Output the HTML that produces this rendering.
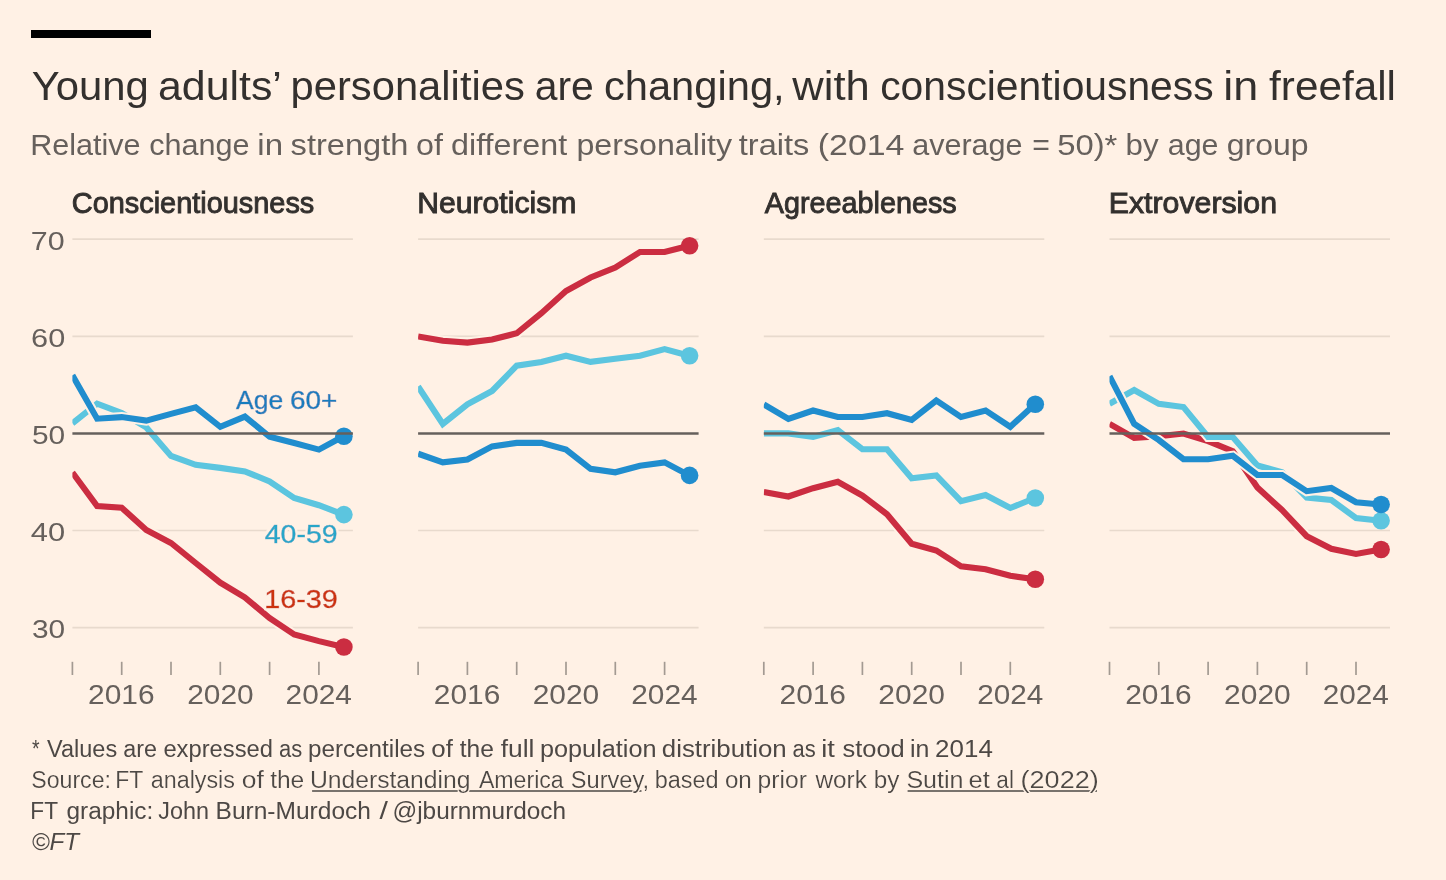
<!DOCTYPE html>
<html lang="en"><head><meta charset="utf-8"><title>Young adults’ personalities are changing</title>
<style>html,body{margin:0;padding:0;background:#fff1e5}body{width:1446px;height:880px;overflow:hidden}svg{display:block}text{font-family:"Liberation Sans",sans-serif}</style></head><body>
<svg width="1446" height="880" viewBox="0 0 1446 880">
<rect width="1446" height="880" fill="#fff1e5"/>
<rect x="31" y="30" width="120" height="8" fill="#000"/>
<filter id="halo1" x="-5%" y="-30%" width="110%" height="160%"><feMorphology in="SourceAlpha" operator="dilate" radius="2.3" result="d"/><feFlood flood-color="#fff1e5"/><feComposite in2="d" operator="in" result="h"/><feMerge><feMergeNode in="h"/><feMergeNode in="SourceGraphic"/></feMerge></filter>
<filter id="halo2" x="-5%" y="-30%" width="110%" height="160%"><feMorphology in="SourceAlpha" operator="dilate" radius="1.4" result="d"/><feFlood flood-color="#fff1e5"/><feComposite in2="d" operator="in" result="h"/><feMerge><feMergeNode in="h"/><feMergeNode in="SourceGraphic"/></feMerge></filter>
<line x1="72.4" x2="352.9" y1="239.2" y2="239.2" stroke="#e8dacd" stroke-width="1.7"/>
<line x1="72.4" x2="352.9" y1="336.3" y2="336.3" stroke="#e8dacd" stroke-width="1.7"/>
<line x1="72.4" x2="352.9" y1="530.5" y2="530.5" stroke="#e8dacd" stroke-width="1.7"/>
<line x1="72.4" x2="352.9" y1="627.7" y2="627.7" stroke="#e8dacd" stroke-width="1.7"/>
<clipPath id="c0"><rect x="72.4" y="225" width="300.5" height="440"/></clipPath>
<g clip-path="url(#c0)" fill="none" stroke-linejoin="miter"><polyline points="72.4,472.5 97.1,506.1 121.7,507.7 146.3,530.0 171.0,543.0 195.7,563.0 220.3,582.7 244.9,597.5 269.6,618.0 294.2,634.5 318.9,641.1 343.5,647.0" stroke="#fff1e5" stroke-width="10.1"/><polyline points="72.4,472.5 97.1,506.1 121.7,507.7 146.3,530.0 171.0,543.0 195.7,563.0 220.3,582.7 244.9,597.5 269.6,618.0 294.2,634.5 318.9,641.1 343.5,647.0" stroke="#cb2d41" stroke-width="6.1"/></g>
<circle cx="343.9" cy="647.0" r="8.8" fill="#cb2d41"/>
<g clip-path="url(#c0)" fill="none" stroke-linejoin="miter"><polyline points="72.4,423.3 97.1,403.6 121.7,412.9 146.3,427.4 171.0,455.9 195.7,464.8 220.3,467.9 244.9,471.4 269.6,481.4 294.2,498.0 318.9,505.2 343.5,514.6" stroke="#fff1e5" stroke-width="10.1"/><polyline points="72.4,423.3 97.1,403.6 121.7,412.9 146.3,427.4 171.0,455.9 195.7,464.8 220.3,467.9 244.9,471.4 269.6,481.4 294.2,498.0 318.9,505.2 343.5,514.6" stroke="#5cc5df" stroke-width="6.1"/></g>
<circle cx="343.9" cy="514.6" r="8.8" fill="#5cc5df"/>
<g clip-path="url(#c0)" fill="none" stroke-linejoin="miter"><polyline points="72.4,375.2 97.1,418.7 121.7,417.1 146.3,420.6 171.0,413.9 195.7,407.3 220.3,426.8 244.9,416.6 269.6,436.8 294.2,443.0 318.9,449.6 343.5,436.3" stroke="#fff1e5" stroke-width="10.1"/><polyline points="72.4,375.2 97.1,418.7 121.7,417.1 146.3,420.6 171.0,413.9 195.7,407.3 220.3,426.8 244.9,416.6 269.6,436.8 294.2,443.0 318.9,449.6 343.5,436.3" stroke="#208dce" stroke-width="6.1"/></g>
<circle cx="343.9" cy="436.3" r="8.8" fill="#208dce"/>
<line x1="72.4" x2="352.9" y1="433.5" y2="433.5" stroke="#66605c" stroke-width="2.3"/>
<line x1="72.4" x2="72.4" y1="661.8" y2="675" stroke="#a39a92" stroke-width="1.7"/>
<line x1="121.7" x2="121.7" y1="661.8" y2="675" stroke="#a39a92" stroke-width="1.7"/>
<line x1="171.0" x2="171.0" y1="661.8" y2="675" stroke="#a39a92" stroke-width="1.7"/>
<line x1="220.3" x2="220.3" y1="661.8" y2="675" stroke="#a39a92" stroke-width="1.7"/>
<line x1="269.6" x2="269.6" y1="661.8" y2="675" stroke="#a39a92" stroke-width="1.7"/>
<line x1="318.9" x2="318.9" y1="661.8" y2="675" stroke="#a39a92" stroke-width="1.7"/>
<line x1="418.1" x2="698.6" y1="239.2" y2="239.2" stroke="#e8dacd" stroke-width="1.7"/>
<line x1="418.1" x2="698.6" y1="336.3" y2="336.3" stroke="#e8dacd" stroke-width="1.7"/>
<line x1="418.1" x2="698.6" y1="530.5" y2="530.5" stroke="#e8dacd" stroke-width="1.7"/>
<line x1="418.1" x2="698.6" y1="627.7" y2="627.7" stroke="#e8dacd" stroke-width="1.7"/>
<clipPath id="c1"><rect x="418.1" y="225" width="300.5" height="440"/></clipPath>
<g clip-path="url(#c1)" fill="none" stroke-linejoin="miter"><polyline points="418.1,336.4 442.8,340.8 467.4,342.6 492.1,339.5 516.7,333.3 541.4,313.2 566.0,291.0 590.6,277.5 615.3,267.5 640.0,252.0 664.6,252.0 689.2,245.7" stroke="#fff1e5" stroke-width="10.1"/><polyline points="418.1,336.4 442.8,340.8 467.4,342.6 492.1,339.5 516.7,333.3 541.4,313.2 566.0,291.0 590.6,277.5 615.3,267.5 640.0,252.0 664.6,252.0 689.2,245.7" stroke="#cb2d41" stroke-width="6.1"/></g>
<circle cx="689.6" cy="245.7" r="8.8" fill="#cb2d41"/>
<g clip-path="url(#c1)" fill="none" stroke-linejoin="miter"><polyline points="418.1,386.5 442.8,424.0 467.4,404.3 492.1,391.0 516.7,365.7 541.4,361.9 566.0,355.7 590.6,361.9 615.3,358.8 640.0,355.7 664.6,349.1 689.2,355.7" stroke="#fff1e5" stroke-width="10.1"/><polyline points="418.1,386.5 442.8,424.0 467.4,404.3 492.1,391.0 516.7,365.7 541.4,361.9 566.0,355.7 590.6,361.9 615.3,358.8 640.0,355.7 664.6,349.1 689.2,355.7" stroke="#5cc5df" stroke-width="6.1"/></g>
<circle cx="689.6" cy="355.7" r="8.8" fill="#5cc5df"/>
<g clip-path="url(#c1)" fill="none" stroke-linejoin="miter"><polyline points="418.1,453.7 442.8,462.4 467.4,459.5 492.1,446.4 516.7,442.9 541.4,442.9 566.0,449.5 590.6,468.8 615.3,472.3 640.0,465.7 664.6,462.4 689.2,475.4" stroke="#fff1e5" stroke-width="10.1"/><polyline points="418.1,453.7 442.8,462.4 467.4,459.5 492.1,446.4 516.7,442.9 541.4,442.9 566.0,449.5 590.6,468.8 615.3,472.3 640.0,465.7 664.6,462.4 689.2,475.4" stroke="#208dce" stroke-width="6.1"/></g>
<circle cx="689.6" cy="475.4" r="8.8" fill="#208dce"/>
<line x1="418.1" x2="698.6" y1="433.5" y2="433.5" stroke="#66605c" stroke-width="2.3"/>
<line x1="418.1" x2="418.1" y1="661.8" y2="675" stroke="#a39a92" stroke-width="1.7"/>
<line x1="467.4" x2="467.4" y1="661.8" y2="675" stroke="#a39a92" stroke-width="1.7"/>
<line x1="516.7" x2="516.7" y1="661.8" y2="675" stroke="#a39a92" stroke-width="1.7"/>
<line x1="566.0" x2="566.0" y1="661.8" y2="675" stroke="#a39a92" stroke-width="1.7"/>
<line x1="615.3" x2="615.3" y1="661.8" y2="675" stroke="#a39a92" stroke-width="1.7"/>
<line x1="664.6" x2="664.6" y1="661.8" y2="675" stroke="#a39a92" stroke-width="1.7"/>
<line x1="763.8" x2="1044.3" y1="239.2" y2="239.2" stroke="#e8dacd" stroke-width="1.7"/>
<line x1="763.8" x2="1044.3" y1="336.3" y2="336.3" stroke="#e8dacd" stroke-width="1.7"/>
<line x1="763.8" x2="1044.3" y1="530.5" y2="530.5" stroke="#e8dacd" stroke-width="1.7"/>
<line x1="763.8" x2="1044.3" y1="627.7" y2="627.7" stroke="#e8dacd" stroke-width="1.7"/>
<clipPath id="c2"><rect x="763.8" y="225" width="300.5" height="440"/></clipPath>
<g clip-path="url(#c2)" fill="none" stroke-linejoin="miter"><polyline points="763.8,492.0 788.4,496.5 813.1,488.2 837.8,481.8 862.4,495.5 887.0,514.2 911.7,543.8 936.3,550.5 961.0,566.2 985.6,569.2 1010.3,575.8 1034.9,579.2" stroke="#fff1e5" stroke-width="10.1"/><polyline points="763.8,492.0 788.4,496.5 813.1,488.2 837.8,481.8 862.4,495.5 887.0,514.2 911.7,543.8 936.3,550.5 961.0,566.2 985.6,569.2 1010.3,575.8 1034.9,579.2" stroke="#cb2d41" stroke-width="6.1"/></g>
<circle cx="1035.3" cy="579.2" r="8.8" fill="#cb2d41"/>
<g clip-path="url(#c2)" fill="none" stroke-linejoin="miter"><polyline points="763.8,433.4 788.4,433.4 813.1,437.0 837.8,430.2 862.4,449.2 887.0,449.2 911.7,478.2 936.3,475.5 961.0,501.2 985.6,495.0 1010.3,508.0 1034.9,498.0" stroke="#fff1e5" stroke-width="10.1"/><polyline points="763.8,433.4 788.4,433.4 813.1,437.0 837.8,430.2 862.4,449.2 887.0,449.2 911.7,478.2 936.3,475.5 961.0,501.2 985.6,495.0 1010.3,508.0 1034.9,498.0" stroke="#5cc5df" stroke-width="6.1"/></g>
<circle cx="1035.3" cy="498.0" r="8.8" fill="#5cc5df"/>
<g clip-path="url(#c2)" fill="none" stroke-linejoin="miter"><polyline points="763.8,404.5 788.4,418.8 813.1,410.5 837.8,417.0 862.4,417.0 887.0,413.2 911.7,420.0 936.3,400.5 961.0,417.0 985.6,410.5 1010.3,426.8 1034.9,404.2" stroke="#fff1e5" stroke-width="10.1"/><polyline points="763.8,404.5 788.4,418.8 813.1,410.5 837.8,417.0 862.4,417.0 887.0,413.2 911.7,420.0 936.3,400.5 961.0,417.0 985.6,410.5 1010.3,426.8 1034.9,404.2" stroke="#208dce" stroke-width="6.1"/></g>
<circle cx="1035.3" cy="404.2" r="8.8" fill="#208dce"/>
<line x1="763.8" x2="1044.3" y1="433.5" y2="433.5" stroke="#66605c" stroke-width="2.3"/>
<line x1="763.8" x2="763.8" y1="661.8" y2="675" stroke="#a39a92" stroke-width="1.7"/>
<line x1="813.1" x2="813.1" y1="661.8" y2="675" stroke="#a39a92" stroke-width="1.7"/>
<line x1="862.4" x2="862.4" y1="661.8" y2="675" stroke="#a39a92" stroke-width="1.7"/>
<line x1="911.7" x2="911.7" y1="661.8" y2="675" stroke="#a39a92" stroke-width="1.7"/>
<line x1="961.0" x2="961.0" y1="661.8" y2="675" stroke="#a39a92" stroke-width="1.7"/>
<line x1="1010.3" x2="1010.3" y1="661.8" y2="675" stroke="#a39a92" stroke-width="1.7"/>
<line x1="1109.5" x2="1390.0" y1="239.2" y2="239.2" stroke="#e8dacd" stroke-width="1.7"/>
<line x1="1109.5" x2="1390.0" y1="336.3" y2="336.3" stroke="#e8dacd" stroke-width="1.7"/>
<line x1="1109.5" x2="1390.0" y1="530.5" y2="530.5" stroke="#e8dacd" stroke-width="1.7"/>
<line x1="1109.5" x2="1390.0" y1="627.7" y2="627.7" stroke="#e8dacd" stroke-width="1.7"/>
<clipPath id="c3"><rect x="1109.5" y="225" width="300.5" height="440"/></clipPath>
<g clip-path="url(#c3)" fill="none" stroke-linejoin="miter"><polyline points="1109.5,423.8 1134.2,438.0 1158.8,436.2 1183.5,433.5 1208.1,441.2 1232.8,451.2 1257.4,487.5 1282.0,510.0 1306.7,536.2 1331.3,548.8 1356.0,554.0 1380.7,549.5" stroke="#fff1e5" stroke-width="10.1"/><polyline points="1109.5,423.8 1134.2,438.0 1158.8,436.2 1183.5,433.5 1208.1,441.2 1232.8,451.2 1257.4,487.5 1282.0,510.0 1306.7,536.2 1331.3,548.8 1356.0,554.0 1380.7,549.5" stroke="#cb2d41" stroke-width="6.1"/></g>
<circle cx="1381.1" cy="549.5" r="8.8" fill="#cb2d41"/>
<g clip-path="url(#c3)" fill="none" stroke-linejoin="miter"><polyline points="1109.5,403.8 1134.2,390.0 1158.8,403.8 1183.5,407.0 1208.1,437.0 1232.8,437.0 1257.4,465.5 1282.0,472.3 1306.7,497.5 1331.3,500.0 1356.0,518.0 1380.7,520.8" stroke="#fff1e5" stroke-width="10.1"/><polyline points="1109.5,403.8 1134.2,390.0 1158.8,403.8 1183.5,407.0 1208.1,437.0 1232.8,437.0 1257.4,465.5 1282.0,472.3 1306.7,497.5 1331.3,500.0 1356.0,518.0 1380.7,520.8" stroke="#5cc5df" stroke-width="6.1"/></g>
<circle cx="1381.1" cy="520.8" r="8.8" fill="#5cc5df"/>
<g clip-path="url(#c3)" fill="none" stroke-linejoin="miter"><polyline points="1109.5,376.2 1134.2,423.8 1158.8,440.0 1183.5,459.2 1208.1,459.2 1232.8,455.8 1257.4,475.0 1282.0,475.0 1306.7,491.2 1331.3,488.0 1356.0,502.2 1380.7,504.5" stroke="#fff1e5" stroke-width="10.1"/><polyline points="1109.5,376.2 1134.2,423.8 1158.8,440.0 1183.5,459.2 1208.1,459.2 1232.8,455.8 1257.4,475.0 1282.0,475.0 1306.7,491.2 1331.3,488.0 1356.0,502.2 1380.7,504.5" stroke="#208dce" stroke-width="6.1"/></g>
<circle cx="1381.1" cy="504.5" r="8.8" fill="#208dce"/>
<line x1="1109.5" x2="1390.0" y1="433.5" y2="433.5" stroke="#66605c" stroke-width="2.3"/>
<line x1="1109.5" x2="1109.5" y1="661.8" y2="675" stroke="#a39a92" stroke-width="1.7"/>
<line x1="1158.8" x2="1158.8" y1="661.8" y2="675" stroke="#a39a92" stroke-width="1.7"/>
<line x1="1208.1" x2="1208.1" y1="661.8" y2="675" stroke="#a39a92" stroke-width="1.7"/>
<line x1="1257.4" x2="1257.4" y1="661.8" y2="675" stroke="#a39a92" stroke-width="1.7"/>
<line x1="1306.7" x2="1306.7" y1="661.8" y2="675" stroke="#a39a92" stroke-width="1.7"/>
<line x1="1356.0" x2="1356.0" y1="661.8" y2="675" stroke="#a39a92" stroke-width="1.7"/>
<line x1="312.1" x2="641.5" y1="791" y2="791" stroke="#4d4845" stroke-width="1.7"/>
<line x1="907.6" x2="1097.0" y1="791" y2="791" stroke="#4d4845" stroke-width="1.7"/>
<text y="99.9" font-size="41" fill="#33302e"><tspan x="31.77" textLength="117.11" lengthAdjust="spacingAndGlyphs">Young</tspan> <tspan x="158.01" textLength="122.24" lengthAdjust="spacingAndGlyphs">adults’</tspan> <tspan x="290.50" textLength="234.33" lengthAdjust="spacingAndGlyphs">personalities</tspan> <tspan x="534.67" textLength="59.07" lengthAdjust="spacingAndGlyphs">are</tspan> <tspan x="603.90" textLength="180.80" lengthAdjust="spacingAndGlyphs">changing,</tspan> <tspan x="792.34" textLength="77.47" lengthAdjust="spacingAndGlyphs">with</tspan> <tspan x="880.23" textLength="333.38" lengthAdjust="spacingAndGlyphs">conscientiousness</tspan> <tspan x="1223.33" textLength="34.98" lengthAdjust="spacingAndGlyphs">in</tspan> <tspan x="1269.13" textLength="126.84" lengthAdjust="spacingAndGlyphs">freefall</tspan></text>
<text y="154.5" font-size="30" fill="#66605c"><tspan x="30.21" textLength="110.39" lengthAdjust="spacingAndGlyphs">Relative</tspan> <tspan x="149.31" textLength="100.33" lengthAdjust="spacingAndGlyphs">change</tspan> <tspan x="257.35" textLength="25.74" lengthAdjust="spacingAndGlyphs">in</tspan> <tspan x="290.62" textLength="117.72" lengthAdjust="spacingAndGlyphs">strength</tspan> <tspan x="416.02" textLength="26.92" lengthAdjust="spacingAndGlyphs">of</tspan> <tspan x="451.08" textLength="116.02" lengthAdjust="spacingAndGlyphs">different</tspan> <tspan x="576.47" textLength="155.63" lengthAdjust="spacingAndGlyphs">personality</tspan> <tspan x="738.79" textLength="70.53" lengthAdjust="spacingAndGlyphs">traits</tspan> <tspan x="817.75" textLength="86.73" lengthAdjust="spacingAndGlyphs">(2014</tspan> <tspan x="912.16" textLength="110.46" lengthAdjust="spacingAndGlyphs">average</tspan> <tspan x="1032.21" textLength="17.64" lengthAdjust="spacingAndGlyphs">=</tspan> <tspan x="1057.25" textLength="60.11" lengthAdjust="spacingAndGlyphs">50)*</tspan> <tspan x="1125.52" textLength="33.04" lengthAdjust="spacingAndGlyphs">by</tspan> <tspan x="1167.80" textLength="50.69" lengthAdjust="spacingAndGlyphs">age</tspan> <tspan x="1226.81" textLength="81.84" lengthAdjust="spacingAndGlyphs">group</tspan></text>
<text y="212.9" font-size="29" fill="#33302e" stroke="#33302e" stroke-width="0.9"><tspan x="71.79" textLength="242.51" lengthAdjust="spacingAndGlyphs">Conscientiousness</tspan></text>
<text y="212.9" font-size="29" fill="#33302e" stroke="#33302e" stroke-width="0.9"><tspan x="417.26" textLength="159.12" lengthAdjust="spacingAndGlyphs">Neuroticism</tspan></text>
<text y="212.9" font-size="29" fill="#33302e" stroke="#33302e" stroke-width="0.9"><tspan x="764.80" textLength="191.95" lengthAdjust="spacingAndGlyphs">Agreeableness</tspan></text>
<text y="212.9" font-size="29" fill="#33302e" stroke="#33302e" stroke-width="0.9"><tspan x="1108.76" textLength="168.27" lengthAdjust="spacingAndGlyphs">Extroversion</tspan></text>
<text y="756.9" font-size="23" fill="#4d4845"><tspan x="32.00" textLength="7.57" lengthAdjust="spacingAndGlyphs">*</tspan> <tspan x="47.10" textLength="70.06" lengthAdjust="spacingAndGlyphs">Values</tspan> <tspan x="123.33" textLength="33.66" lengthAdjust="spacingAndGlyphs">are</tspan> <tspan x="163.43" textLength="109.51" lengthAdjust="spacingAndGlyphs">expressed</tspan> <tspan x="278.93" textLength="23.19" lengthAdjust="spacingAndGlyphs">as</tspan> <tspan x="308.07" textLength="117.06" lengthAdjust="spacingAndGlyphs">percentiles</tspan> <tspan x="431.32" textLength="21.59" lengthAdjust="spacingAndGlyphs">of</tspan> <tspan x="459.68" textLength="34.18" lengthAdjust="spacingAndGlyphs">the</tspan> <tspan x="500.76" textLength="33.71" lengthAdjust="spacingAndGlyphs">full</tspan> <tspan x="540.00" textLength="116.46" lengthAdjust="spacingAndGlyphs">population</tspan> <tspan x="661.83" textLength="124.86" lengthAdjust="spacingAndGlyphs">distribution</tspan> <tspan x="792.57" textLength="23.19" lengthAdjust="spacingAndGlyphs">as</tspan> <tspan x="821.28" textLength="13.62" lengthAdjust="spacingAndGlyphs">it</tspan> <tspan x="842.47" textLength="62.22" lengthAdjust="spacingAndGlyphs">stood</tspan> <tspan x="909.93" textLength="19.38" lengthAdjust="spacingAndGlyphs">in</tspan> <tspan x="935.13" textLength="57.69" lengthAdjust="spacingAndGlyphs">2014</tspan></text>
<text y="788.0" font-size="23" fill="#4d4845" filter="url(#halo2)"><tspan x="31.26" textLength="79.74" lengthAdjust="spacingAndGlyphs">Source:</tspan> <tspan x="115.19" textLength="27.65" lengthAdjust="spacingAndGlyphs">FT</tspan> <tspan x="150.78" textLength="84.19" lengthAdjust="spacingAndGlyphs">analysis</tspan> <tspan x="241.79" textLength="22.03" lengthAdjust="spacingAndGlyphs">of</tspan> <tspan x="270.16" textLength="34.09" lengthAdjust="spacingAndGlyphs">the</tspan> <tspan x="309.95" textLength="160.51" lengthAdjust="spacingAndGlyphs">Understanding</tspan> <tspan x="478.90" textLength="84.80" lengthAdjust="spacingAndGlyphs">America</tspan> <tspan x="570.86" textLength="78.13" lengthAdjust="spacingAndGlyphs">Survey,</tspan> <tspan x="654.75" textLength="63.77" lengthAdjust="spacingAndGlyphs">based</tspan> <tspan x="724.91" textLength="26.94" lengthAdjust="spacingAndGlyphs">on</tspan> <tspan x="757.64" textLength="49.32" lengthAdjust="spacingAndGlyphs">prior</tspan> <tspan x="815.45" textLength="51.40" lengthAdjust="spacingAndGlyphs">work</tspan> <tspan x="873.75" textLength="25.62" lengthAdjust="spacingAndGlyphs">by</tspan> <tspan x="906.42" textLength="57.03" lengthAdjust="spacingAndGlyphs">Sutin</tspan> <tspan x="968.58" textLength="21.28" lengthAdjust="spacingAndGlyphs">et</tspan> <tspan x="996.33" textLength="17.60" lengthAdjust="spacingAndGlyphs">al</tspan> <tspan x="1020.64" textLength="78.01" lengthAdjust="spacingAndGlyphs">(2022)</tspan></text>
<text y="819.1" font-size="23" fill="#4d4845"><tspan x="30.36" textLength="27.28" lengthAdjust="spacingAndGlyphs">FT</tspan> <tspan x="66.46" textLength="86.88" lengthAdjust="spacingAndGlyphs">graphic:</tspan> <tspan x="158.23" textLength="50.70" lengthAdjust="spacingAndGlyphs">John</tspan> <tspan x="215.60" textLength="155.32" lengthAdjust="spacingAndGlyphs">Burn-Murdoch</tspan> <tspan x="379.50" textLength="8.40" lengthAdjust="spacingAndGlyphs">/</tspan> <tspan x="392.46" textLength="173.62" lengthAdjust="spacingAndGlyphs">@jburnmurdoch</tspan></text>
<text y="850.2" font-size="23" fill="#4d4845" font-style="italic"><tspan x="31.66" textLength="47.36" lengthAdjust="spacingAndGlyphs">©FT</tspan></text>
<text y="703.6" font-size="27" fill="#66605c"><tspan x="88.13" textLength="66.49" lengthAdjust="spacingAndGlyphs">2016</tspan> <tspan x="187.25" textLength="66.34" lengthAdjust="spacingAndGlyphs">2020</tspan> <tspan x="285.60" textLength="66.32" lengthAdjust="spacingAndGlyphs">2024</tspan></text>
<text y="703.6" font-size="27" fill="#66605c"><tspan x="433.83" textLength="66.49" lengthAdjust="spacingAndGlyphs">2016</tspan> <tspan x="532.68" textLength="66.60" lengthAdjust="spacingAndGlyphs">2020</tspan> <tspan x="631.30" textLength="66.32" lengthAdjust="spacingAndGlyphs">2024</tspan></text>
<text y="703.6" font-size="27" fill="#66605c"><tspan x="779.53" textLength="66.49" lengthAdjust="spacingAndGlyphs">2016</tspan> <tspan x="878.38" textLength="66.60" lengthAdjust="spacingAndGlyphs">2020</tspan> <tspan x="977.25" textLength="66.06" lengthAdjust="spacingAndGlyphs">2024</tspan></text>
<text y="703.6" font-size="27" fill="#66605c"><tspan x="1125.23" textLength="66.49" lengthAdjust="spacingAndGlyphs">2016</tspan> <tspan x="1224.10" textLength="66.59" lengthAdjust="spacingAndGlyphs">2020</tspan> <tspan x="1322.70" textLength="66.07" lengthAdjust="spacingAndGlyphs">2024</tspan></text>
<text y="249.5" font-size="26.5" fill="#66605c"><tspan x="30.81" textLength="33.87" lengthAdjust="spacingAndGlyphs">70</tspan></text>
<text y="346.6" font-size="26.5" fill="#66605c"><tspan x="31.14" textLength="34.12" lengthAdjust="spacingAndGlyphs">60</tspan></text>
<text y="443.8" font-size="26.5" fill="#66605c"><tspan x="31.92" textLength="33.23" lengthAdjust="spacingAndGlyphs">50</tspan></text>
<text y="540.8" font-size="26.5" fill="#66605c"><tspan x="30.81" textLength="34.35" lengthAdjust="spacingAndGlyphs">40</tspan></text>
<text y="638.0" font-size="26.5" fill="#66605c"><tspan x="31.96" textLength="33.21" lengthAdjust="spacingAndGlyphs">30</tspan></text>
<text y="408.8" font-size="25.5" fill="#1a7dbd" stroke="#1a7dbd" stroke-width="0.5" filter="url(#halo1)"><tspan x="236.10" textLength="47.16" lengthAdjust="spacingAndGlyphs">Age</tspan> <tspan x="289.99" textLength="47.43" lengthAdjust="spacingAndGlyphs">60+</tspan></text>
<text y="542.7" font-size="25.5" fill="#26a6c9" stroke="#26a6c9" stroke-width="0.5" filter="url(#halo1)"><tspan x="264.79" textLength="72.88" lengthAdjust="spacingAndGlyphs">40-59</tspan></text>
<text y="607.6" font-size="25.5" fill="#cc3311" stroke="#cc3311" stroke-width="0.5" filter="url(#halo1)"><tspan x="264.18" textLength="73.62" lengthAdjust="spacingAndGlyphs">16-39</tspan></text>
</svg></body></html>
